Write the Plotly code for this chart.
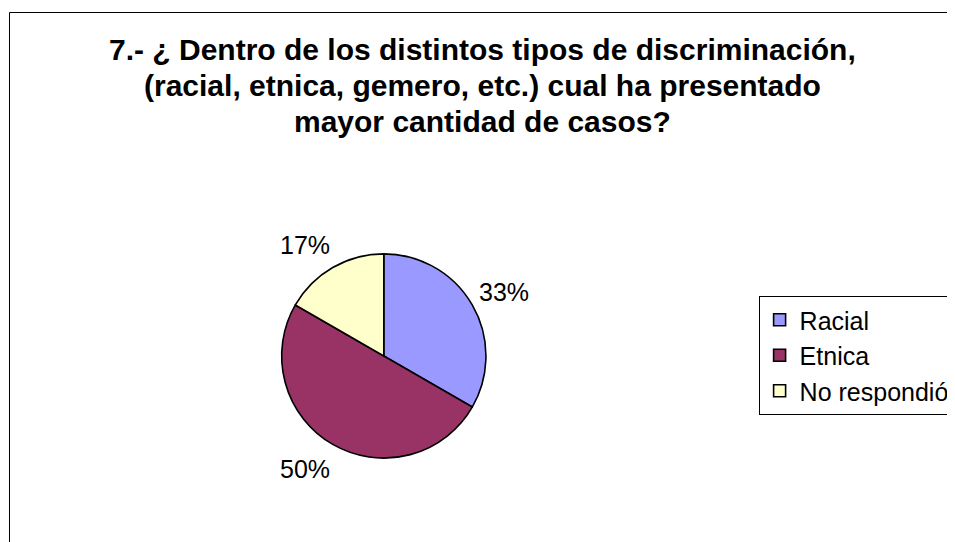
import math
import plotly.graph_objects as go

labels = ["Racial", "Etnica", "No respondió"]
values = [33.33, 50.0, 16.67]
pct_text = ["33%", "50%", "17%"]
colors = ["#9999FF", "#993366", "#FFFFCC"]
title_lines = [
    "7.- ¿ Dentro de los distintos tipos de discriminación,",
    "(racial, etnica, gemero, etc.) cual ha presentado",
    "mayor cantidad de casos?",
]

OFF = 8                      # page body margin
W, H = 955 - OFF, 542 - OFF  # figure size
FONT = "Liberation Sans, Arial"


def px(x):
    return (x - OFF) / W


def py(y):
    return (H - (y - OFF)) / H


cx, cy, R = 387, 356, 103  # pie centre / radius (page pixels)

fig = go.Figure()
fig.add_trace(go.Pie(
    labels=labels, values=values, sort=False, direction="clockwise",
    rotation=0, textinfo="none", hoverinfo="label+percent",
    marker=dict(colors=colors, line=dict(color="black", width=1.6)),
    domain=dict(x=[px(cx - R), px(cx + R)], y=[py(cy + R), py(cy - R)]),
    showlegend=True,
))

total = sum(values)
acc = 0
annotations = []
for v, t in zip(values, pct_text):
    mid = (acc + v / 2) / total * 2 * math.pi
    acc += v
    dist = 136
    dx = math.sin(mid) * dist
    dy = -math.cos(mid) * dist
    if dx < 0:
        dx -= 12
    else:
        dx += 2
    dy = dy * 0.95 + 1
    annotations.append(dict(
        x=px(cx + dx + 1), y=py(cy + dy), xref="paper", yref="paper",
        text=t, showarrow=False, xanchor="center", yanchor="middle",
        font=dict(family=FONT, size=25, color="black"),
    ))

for line, ly in zip(title_lines, [49.5, 85.5, 121.5]):
    annotations.append(dict(
        x=px(487), y=py(ly), xref="paper", yref="paper",
        text="<b>" + line + "</b>", showarrow=False, xanchor="center", yanchor="middle",
        font=dict(family=FONT, size=30, color="black"),
    ))

fig.update_layout(
    width=W, height=H,
    margin=dict(l=0, r=0, t=0, b=0),
    paper_bgcolor="white", plot_bgcolor="white",
    annotations=annotations,
    legend=dict(
        x=px(765), y=py(296), xanchor="left", yanchor="top",
        bordercolor="black", borderwidth=1, bgcolor="white",
        font=dict(family=FONT, size=25, color="black"),
        itemwidth=30, tracegroupgap=0,
    ),
    shapes=[dict(
        type="rect", xref="paper", yref="paper",
        x0=px(9.5), x1=1.05, y0=-0.05, y1=py(12.5),
        line=dict(color="black", width=1), fillcolor="rgba(0,0,0,0)", layer="below",
    )],
)

fig.write_html("out.html")
